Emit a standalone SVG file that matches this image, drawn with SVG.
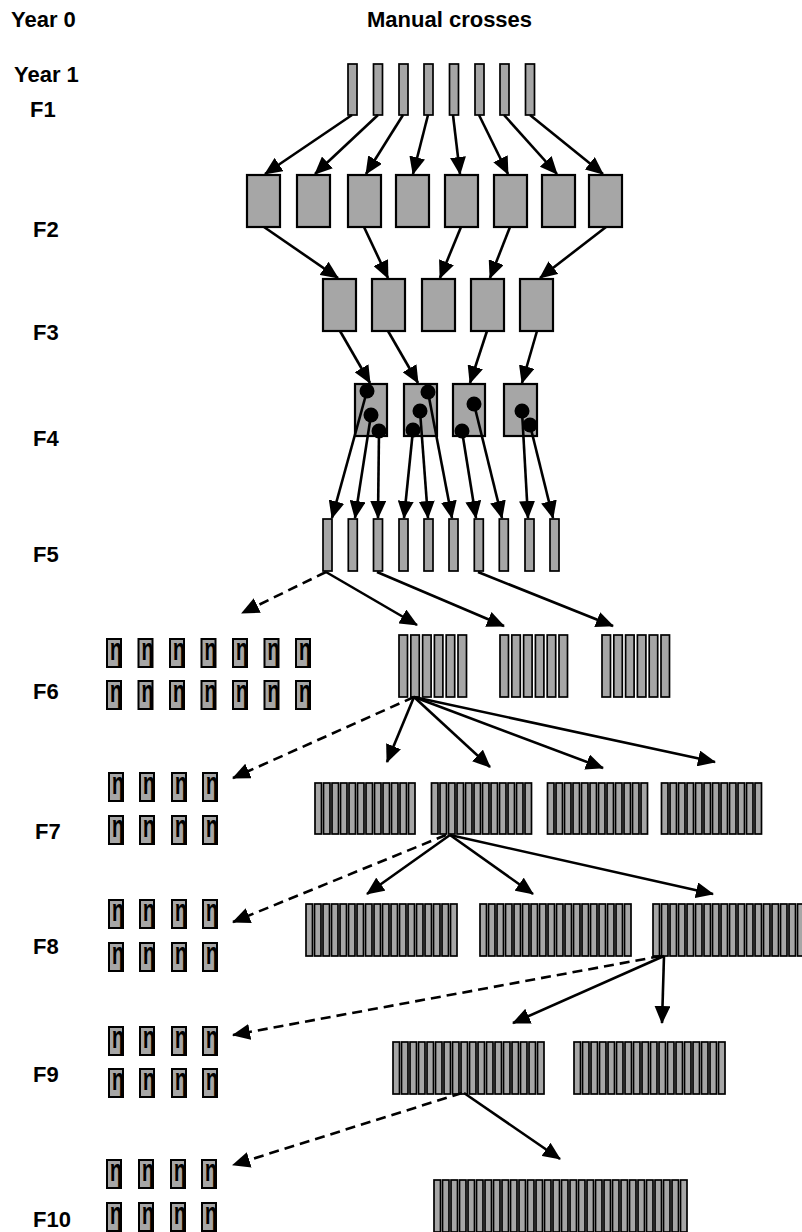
<svg xmlns="http://www.w3.org/2000/svg" xmlns:xlink="http://www.w3.org/1999/xlink" width="802" height="1232" viewBox="0 0 802 1232">
<style>
.lbl{font-family:"Liberation Sans",Arial,sans-serif;font-weight:bold;font-size:22px;fill:#000}
.bar{fill:#a6a6a6;stroke:#000;stroke-width:1.7}
.box{fill:#a6a6a6;stroke:#000;stroke-width:2.2}
.sb{fill:#a6a6a6;stroke:#000;stroke-width:2}
.g{font-family:"Liberation Sans",Arial,sans-serif;font-weight:bold;font-size:32px;fill:#000}
.a{stroke:#000;stroke-width:2.6;fill:none;marker-end:url(#ah)}
.d{stroke:#000;stroke-width:2.6;fill:none;stroke-dasharray:10 6;marker-end:url(#ah)}
.dot{fill:#000}
</style>
<defs>
<marker id="ah" viewBox="0 0 18 16" refX="17" refY="8" markerWidth="18" markerHeight="16" markerUnits="userSpaceOnUse" orient="auto"><path d="M0,0 L18,8 L0,16 z" fill="#000"/></marker>
<g id="b6"><rect class="bar" x="0" y="0" width="8.5" height="62"/><rect class="bar" x="11.8" y="0" width="8.5" height="62"/><rect class="bar" x="23.6" y="0" width="8.5" height="62"/><rect class="bar" x="35.4" y="0" width="8.5" height="62"/><rect class="bar" x="47.2" y="0" width="8.5" height="62"/><rect class="bar" x="59" y="0" width="8.5" height="62"/></g>
<g id="b12"><rect class="bar" x="0" width="6.5" height="51"/><rect class="bar" x="8.5" width="6.5" height="51"/><rect class="bar" x="17" width="6.5" height="51"/><rect class="bar" x="25.5" width="6.5" height="51"/><rect class="bar" x="34" width="6.5" height="51"/><rect class="bar" x="42.5" width="6.5" height="51"/><rect class="bar" x="51" width="6.5" height="51"/><rect class="bar" x="59.5" width="6.5" height="51"/><rect class="bar" x="68" width="6.5" height="51"/><rect class="bar" x="76.5" width="6.5" height="51"/><rect class="bar" x="85" width="6.5" height="51"/><rect class="bar" x="93.5" width="6.5" height="51"/></g>
<g id="b6n"><rect class="bar" x="0" width="6.5" height="52"/><rect class="bar" x="8.5" width="6.5" height="52"/><rect class="bar" x="17" width="6.5" height="52"/><rect class="bar" x="25.5" width="6.5" height="52"/><rect class="bar" x="34" width="6.5" height="52"/><rect class="bar" x="42.5" width="6.5" height="52"/></g>
<g id="b18"><use xlink:href="#b6n" x="0"/><use xlink:href="#b6n" x="51"/><use xlink:href="#b6n" x="102"/></g>
<g id="b30"><use xlink:href="#b6n" x="0"/><use xlink:href="#b6n" x="51"/><use xlink:href="#b6n" x="102"/><use xlink:href="#b6n" x="153"/><use xlink:href="#b6n" x="204"/></g>
</defs>

<g id="labels">
<text class="lbl" x="11" y="27">Year 0</text>
<text class="lbl" x="367" y="27">Manual crosses</text>
<text class="lbl" x="14" y="82">Year 1</text>
<text class="lbl" x="30" y="117">F1</text>
<text class="lbl" x="33" y="237">F2</text>
<text class="lbl" x="33" y="340">F3</text>
<text class="lbl" x="33" y="446">F4</text>
<text class="lbl" x="33" y="562">F5</text>
<text class="lbl" x="33" y="699">F6</text>
<text class="lbl" x="35" y="839">F7</text>
<text class="lbl" x="33" y="954">F8</text>
<text class="lbl" x="33" y="1082">F9</text>
<text class="lbl" x="33" y="1227">F10</text>
</g>

<g id="F1">
<g id="f1-1"><rect class="bar" x="348" y="64" width="9" height="51"/></g>
<g id="f1-2"><rect class="bar" x="373.5" y="64" width="9" height="51"/></g>
<g id="f1-3"><rect class="bar" x="399" y="64" width="9" height="51"/></g>
<g id="f1-4"><rect class="bar" x="424" y="64" width="9" height="51"/></g>
<g id="f1-5"><rect class="bar" x="449.5" y="64" width="9" height="51"/></g>
<g id="f1-6"><rect class="bar" x="475" y="64" width="9" height="51"/></g>
<g id="f1-7"><rect class="bar" x="500" y="64" width="9" height="51"/></g>
<g id="f1-8"><rect class="bar" x="525.5" y="64" width="9" height="51"/></g>
</g>

<g id="F2">
<g id="f2-1"><rect class="box" x="247" y="175" width="33" height="52"/></g>
<g id="f2-2"><rect class="box" x="297" y="175" width="33" height="52"/></g>
<g id="f2-3"><rect class="box" x="348" y="175" width="33" height="52"/></g>
<g id="f2-4"><rect class="box" x="396" y="175" width="33" height="52"/></g>
<g id="f2-5"><rect class="box" x="445" y="175" width="33" height="52"/></g>
<g id="f2-6"><rect class="box" x="494" y="175" width="33" height="52"/></g>
<g id="f2-7"><rect class="box" x="542" y="175" width="33" height="52"/></g>
<g id="f2-8"><rect class="box" x="589" y="175" width="33" height="52"/></g>
</g>

<g id="F3">
<g id="f3-1"><rect class="box" x="323" y="279" width="33" height="52"/></g>
<g id="f3-2"><rect class="box" x="372" y="279" width="33" height="52"/></g>
<g id="f3-3"><rect class="box" x="422" y="279" width="33" height="52"/></g>
<g id="f3-4"><rect class="box" x="471" y="279" width="33" height="52"/></g>
<g id="f3-5"><rect class="box" x="520" y="279" width="33" height="52"/></g>
</g>

<g id="F4">
<g id="f4-1"><rect class="box" x="355" y="384" width="32" height="52"/></g>
<g id="f4-2"><rect class="box" x="404" y="384" width="33" height="52"/></g>
<g id="f4-3"><rect class="box" x="453" y="384" width="32" height="52"/></g>
<g id="f4-4"><rect class="box" x="504" y="384" width="33" height="52"/></g>
</g>

<g id="F5">
<g id="f5-1"><rect class="bar" x="323" y="519" width="9" height="52"/></g>
<g id="f5-2"><rect class="bar" x="348.3" y="519" width="9" height="52"/></g>
<g id="f5-3"><rect class="bar" x="373.5" y="519" width="9" height="52"/></g>
<g id="f5-4"><rect class="bar" x="399" y="519" width="9" height="52"/></g>
<g id="f5-5"><rect class="bar" x="424" y="519" width="9" height="52"/></g>
<g id="f5-6"><rect class="bar" x="449" y="519" width="9" height="52"/></g>
<g id="f5-7"><rect class="bar" x="474.3" y="519" width="9" height="52"/></g>
<g id="f5-8"><rect class="bar" x="499.3" y="519" width="9" height="52"/></g>
<g id="f5-9"><rect class="bar" x="525" y="519" width="9" height="52"/></g>
<g id="f5-10"><rect class="bar" x="550" y="519" width="9" height="52"/></g>
</g>

<g id="F6">
<g id="f6-1"><use xlink:href="#b6" x="399" y="635"/></g>
<g id="f6-2"><use xlink:href="#b6" x="500" y="635"/></g>
<g id="f6-3"><use xlink:href="#b6" x="602" y="635"/></g>
</g>
<g id="F7">
<g id="f7-1"><use xlink:href="#b12" x="315" y="783"/></g>
<g id="f7-2"><use xlink:href="#b12" x="431.5" y="783"/></g>
<g id="f7-3"><use xlink:href="#b12" x="547.5" y="783"/></g>
<g id="f7-4"><use xlink:href="#b12" x="661.5" y="783"/></g>
</g>
<g id="F8">
<g id="f8-1"><use xlink:href="#b18" x="306" y="904"/></g>
<g id="f8-2"><use xlink:href="#b18" x="480" y="904"/></g>
<g id="f8-3"><use xlink:href="#b18" x="653" y="904"/></g>
</g>
<g id="F9">
<g id="f9-1"><use xlink:href="#b18" x="393" y="1042"/></g>
<g id="f9-2"><use xlink:href="#b18" x="574" y="1042"/></g>
</g>
<g id="F10">
<g id="f10-1"><use xlink:href="#b30" x="434" y="1180"/></g>
</g>

<g id="selected">
<g id="s6"><rect class="sb" x="107" y="639" width="14" height="28"/><text class="g" x="110" y="660" textLength="12" lengthAdjust="spacingAndGlyphs">η</text><rect class="sb" x="138.5" y="639" width="14" height="28"/><text class="g" x="141.5" y="660" textLength="12" lengthAdjust="spacingAndGlyphs">η</text><rect class="sb" x="170" y="639" width="14" height="28"/><text class="g" x="173" y="660" textLength="12" lengthAdjust="spacingAndGlyphs">η</text><rect class="sb" x="201.5" y="639" width="14" height="28"/><text class="g" x="204.5" y="660" textLength="12" lengthAdjust="spacingAndGlyphs">η</text><rect class="sb" x="233" y="639" width="14" height="28"/><text class="g" x="236" y="660" textLength="12" lengthAdjust="spacingAndGlyphs">η</text><rect class="sb" x="264.5" y="639" width="14" height="28"/><text class="g" x="267.5" y="660" textLength="12" lengthAdjust="spacingAndGlyphs">η</text><rect class="sb" x="296" y="639" width="14" height="28"/><text class="g" x="299" y="660" textLength="12" lengthAdjust="spacingAndGlyphs">η</text>
<rect class="sb" x="107" y="681" width="14" height="28"/><text class="g" x="110" y="702" textLength="12" lengthAdjust="spacingAndGlyphs">η</text><rect class="sb" x="138.5" y="681" width="14" height="28"/><text class="g" x="141.5" y="702" textLength="12" lengthAdjust="spacingAndGlyphs">η</text><rect class="sb" x="170" y="681" width="14" height="28"/><text class="g" x="173" y="702" textLength="12" lengthAdjust="spacingAndGlyphs">η</text><rect class="sb" x="201.5" y="681" width="14" height="28"/><text class="g" x="204.5" y="702" textLength="12" lengthAdjust="spacingAndGlyphs">η</text><rect class="sb" x="233" y="681" width="14" height="28"/><text class="g" x="236" y="702" textLength="12" lengthAdjust="spacingAndGlyphs">η</text><rect class="sb" x="264.5" y="681" width="14" height="28"/><text class="g" x="267.5" y="702" textLength="12" lengthAdjust="spacingAndGlyphs">η</text><rect class="sb" x="296" y="681" width="14" height="28"/><text class="g" x="299" y="702" textLength="12" lengthAdjust="spacingAndGlyphs">η</text></g>
<g id="s7"><rect class="sb" x="109" y="773" width="14" height="28"/><text class="g" x="112" y="794" textLength="12" lengthAdjust="spacingAndGlyphs">η</text><rect class="sb" x="140" y="773" width="14" height="28"/><text class="g" x="143" y="794" textLength="12" lengthAdjust="spacingAndGlyphs">η</text><rect class="sb" x="172" y="773" width="14" height="28"/><text class="g" x="175" y="794" textLength="12" lengthAdjust="spacingAndGlyphs">η</text><rect class="sb" x="203" y="773" width="14" height="28"/><text class="g" x="206" y="794" textLength="12" lengthAdjust="spacingAndGlyphs">η</text>
<rect class="sb" x="109" y="816" width="14" height="28"/><text class="g" x="112" y="837" textLength="12" lengthAdjust="spacingAndGlyphs">η</text><rect class="sb" x="140" y="816" width="14" height="28"/><text class="g" x="143" y="837" textLength="12" lengthAdjust="spacingAndGlyphs">η</text><rect class="sb" x="172" y="816" width="14" height="28"/><text class="g" x="175" y="837" textLength="12" lengthAdjust="spacingAndGlyphs">η</text><rect class="sb" x="203" y="816" width="14" height="28"/><text class="g" x="206" y="837" textLength="12" lengthAdjust="spacingAndGlyphs">η</text></g>
<g id="s8"><rect class="sb" x="109" y="900" width="14" height="28"/><text class="g" x="112" y="921" textLength="12" lengthAdjust="spacingAndGlyphs">η</text><rect class="sb" x="140" y="900" width="14" height="28"/><text class="g" x="143" y="921" textLength="12" lengthAdjust="spacingAndGlyphs">η</text><rect class="sb" x="172" y="900" width="14" height="28"/><text class="g" x="175" y="921" textLength="12" lengthAdjust="spacingAndGlyphs">η</text><rect class="sb" x="203" y="900" width="14" height="28"/><text class="g" x="206" y="921" textLength="12" lengthAdjust="spacingAndGlyphs">η</text>
<rect class="sb" x="109" y="943" width="14" height="28"/><text class="g" x="112" y="964" textLength="12" lengthAdjust="spacingAndGlyphs">η</text><rect class="sb" x="140" y="943" width="14" height="28"/><text class="g" x="143" y="964" textLength="12" lengthAdjust="spacingAndGlyphs">η</text><rect class="sb" x="172" y="943" width="14" height="28"/><text class="g" x="175" y="964" textLength="12" lengthAdjust="spacingAndGlyphs">η</text><rect class="sb" x="203" y="943" width="14" height="28"/><text class="g" x="206" y="964" textLength="12" lengthAdjust="spacingAndGlyphs">η</text></g>
<g id="s9"><rect class="sb" x="109" y="1027" width="14" height="28"/><text class="g" x="112" y="1048" textLength="12" lengthAdjust="spacingAndGlyphs">η</text><rect class="sb" x="140" y="1027" width="14" height="28"/><text class="g" x="143" y="1048" textLength="12" lengthAdjust="spacingAndGlyphs">η</text><rect class="sb" x="172" y="1027" width="14" height="28"/><text class="g" x="175" y="1048" textLength="12" lengthAdjust="spacingAndGlyphs">η</text><rect class="sb" x="203" y="1027" width="14" height="28"/><text class="g" x="206" y="1048" textLength="12" lengthAdjust="spacingAndGlyphs">η</text>
<rect class="sb" x="109" y="1069" width="14" height="28"/><text class="g" x="112" y="1090" textLength="12" lengthAdjust="spacingAndGlyphs">η</text><rect class="sb" x="140" y="1069" width="14" height="28"/><text class="g" x="143" y="1090" textLength="12" lengthAdjust="spacingAndGlyphs">η</text><rect class="sb" x="172" y="1069" width="14" height="28"/><text class="g" x="175" y="1090" textLength="12" lengthAdjust="spacingAndGlyphs">η</text><rect class="sb" x="203" y="1069" width="14" height="28"/><text class="g" x="206" y="1090" textLength="12" lengthAdjust="spacingAndGlyphs">η</text></g>
<g id="s10"><rect class="sb" x="107" y="1160" width="14" height="28"/><text class="g" x="110" y="1181" textLength="12" lengthAdjust="spacingAndGlyphs">η</text><rect class="sb" x="139" y="1160" width="14" height="28"/><text class="g" x="142" y="1181" textLength="12" lengthAdjust="spacingAndGlyphs">η</text><rect class="sb" x="171" y="1160" width="14" height="28"/><text class="g" x="174" y="1181" textLength="12" lengthAdjust="spacingAndGlyphs">η</text><rect class="sb" x="202" y="1160" width="14" height="28"/><text class="g" x="205" y="1181" textLength="12" lengthAdjust="spacingAndGlyphs">η</text>
<rect class="sb" x="107" y="1203" width="14" height="28"/><text class="g" x="110" y="1224" textLength="12" lengthAdjust="spacingAndGlyphs">η</text><rect class="sb" x="139" y="1203" width="14" height="28"/><text class="g" x="142" y="1224" textLength="12" lengthAdjust="spacingAndGlyphs">η</text><rect class="sb" x="171" y="1203" width="14" height="28"/><text class="g" x="174" y="1224" textLength="12" lengthAdjust="spacingAndGlyphs">η</text><rect class="sb" x="202" y="1203" width="14" height="28"/><text class="g" x="205" y="1224" textLength="12" lengthAdjust="spacingAndGlyphs">η</text></g>
</g>

<g id="connectors">
<path class="a" d="M352,115 L265,174"/>
<path class="a" d="M378,115 L315,174"/>
<path class="a" d="M403,115 L366,174"/>
<path class="a" d="M428,115 L413,174"/>
<path class="a" d="M453,115 L460,174"/>
<path class="a" d="M479,115 L508,174"/>
<path class="a" d="M504,115 L557,174"/>
<path class="a" d="M530,115 L603,174"/>
<path class="a" d="M264,227 L338,278"/>
<path class="a" d="M364,227 L388,278"/>
<path class="a" d="M461,227 L440,278"/>
<path class="a" d="M510,227 L490,278"/>
<path class="a" d="M606,227 L540,278"/>
<path class="a" d="M340,331 L370,383"/>
<path class="a" d="M388,331 L418,383"/>
<path class="a" d="M487,331 L470,383"/>
<path class="a" d="M537,331 L522,383"/>
<path class="a" d="M367,391 L332,518"/>
<path class="a" d="M371,415 L355,518"/>
<path class="a" d="M379,431 L378,518"/>
<path class="a" d="M413,430 L404,518"/>
<path class="a" d="M420,411 L428,518"/>
<path class="a" d="M428,392 L452,518"/>
<path class="a" d="M462,431 L476,518"/>
<path class="a" d="M474,404 L502,518"/>
<path class="a" d="M522,411 L528,518"/>
<path class="a" d="M530,425 L553,518"/>
<path class="d" d="M326,572 L242,613"/>
<path class="a" d="M326,572 L417,625"/>
<path class="a" d="M377,572 L504,626"/>
<path class="a" d="M478,572 L613,626"/>
<path class="d" d="M414,697 L233,778"/>
<path class="a" d="M414,697 L387,762"/>
<path class="a" d="M414,697 L490,767"/>
<path class="a" d="M414,697 L603,768"/>
<path class="a" d="M414,697 L715,762"/>
<path class="d" d="M446,835 L233,922"/>
<path class="a" d="M450,835 L367,894"/>
<path class="a" d="M450,835 L533,894"/>
<path class="a" d="M450,835 L713,894"/>
<path class="d" d="M661,956 L233,1035"/>
<path class="a" d="M664,956 L513,1023"/>
<path class="a" d="M664,956 L662,1023"/>
<path class="d" d="M462,1093 L233,1165"/>
<path class="a" d="M464,1093 L560,1159"/>
</g>

<g id="dots">
<circle class="dot" cx="367" cy="391" r="7.5"/>
<circle class="dot" cx="371" cy="415" r="7.5"/>
<circle class="dot" cx="379" cy="431" r="7.5"/>
<circle class="dot" cx="428" cy="392" r="7.5"/>
<circle class="dot" cx="420" cy="411" r="7.5"/>
<circle class="dot" cx="413" cy="430" r="7.5"/>
<circle class="dot" cx="474" cy="404" r="7.5"/>
<circle class="dot" cx="462" cy="431" r="7.5"/>
<circle class="dot" cx="522" cy="411" r="7.5"/>
<circle class="dot" cx="530" cy="425" r="7.5"/>
</g>
</svg>
